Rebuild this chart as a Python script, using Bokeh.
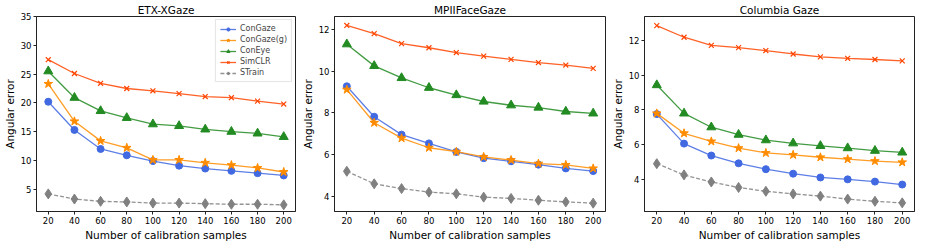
from bokeh.plotting import figure
from bokeh.layouts import row
from bokeh.models import FixedTicker, Range1d
from bokeh.embed import file_html
from bokeh.resources import INLINE

# ---------------- data ----------------
samples = [20, 40, 60, 80, 100, 120, 140, 160, 180, 200]
x_ticks = [20, 40, 60, 80, 100, 120, 140, 160, 180, 200]

series_names = ["ConGaze", "ConGaze(g)", "ConEye", "SimCLR", "STrain"]

etx_congaze = [20.2, 15.3, 12.0, 10.9, 9.9, 9.1, 8.6, 8.2, 7.8, 7.4]
etx_congaze_g = [23.3, 16.8, 13.4, 12.2, 10.1, 10.1, 9.6, 9.2, 8.7, 8.0]
etx_coneye = [25.5, 20.9, 18.6, 17.4, 16.3, 16.0, 15.4, 15.0, 14.7, 14.1]
etx_simclr = [27.5, 25.1, 23.4, 22.5, 22.1, 21.6, 21.1, 20.9, 20.3, 19.8]
etx_strain = [4.2, 3.3, 2.9, 2.8, 2.6, 2.6, 2.5, 2.4, 2.4, 2.3]
etx_yticks = [5, 10, 15, 20, 25, 30, 35]

mpii_congaze = [9.27, 7.81, 6.95, 6.53, 6.12, 5.82, 5.67, 5.51, 5.33, 5.20]
mpii_congaze_g = [9.11, 7.52, 6.78, 6.32, 6.13, 5.88, 5.73, 5.56, 5.50, 5.33]
mpii_coneye = [11.29, 10.25, 9.67, 9.20, 8.85, 8.54, 8.36, 8.25, 8.06, 7.97]
mpii_simclr = [12.19, 11.80, 11.32, 11.12, 10.89, 10.72, 10.56, 10.41, 10.29, 10.13]
mpii_strain = [5.19, 4.59, 4.36, 4.19, 4.11, 3.95, 3.89, 3.80, 3.72, 3.66]
mpii_yticks = [4, 6, 8, 10, 12]

col_congaze = [7.76, 6.05, 5.36, 4.91, 4.57, 4.31, 4.09, 3.98, 3.85, 3.68]
col_congaze_g = [7.80, 6.65, 6.18, 5.79, 5.51, 5.40, 5.26, 5.15, 5.04, 4.97]
col_coneye = [9.44, 7.80, 7.00, 6.57, 6.25, 6.07, 5.92, 5.79, 5.64, 5.54]
col_simclr = [12.88, 12.21, 11.74, 11.61, 11.44, 11.24, 11.07, 10.99, 10.92, 10.84]
col_strain = [4.89, 4.24, 3.83, 3.51, 3.29, 3.14, 3.01, 2.84, 2.71, 2.62]
col_yticks = [4, 6, 8, 10, 12]

# ---------------- styles ----------------
FONT = "DejaVu Sans"
styles = {
    "ConGaze": dict(color="#4169E1", marker="circle", size=7, dash="solid"),
    "ConGaze(g)": dict(color="#FF8C00", marker="star", size=9, dash="solid"),
    "ConEye": dict(color="#228B22", marker="triangle", size=9, dash="solid"),
    "SimCLR": dict(color="#FF4500", marker="x", size=7, dash="solid"),
    "STrain": dict(color="#808080", marker="diamond", size=10, dash="4 2"),
}


def make_fig(title, width, bl, br, yr, yticks, values, legend=False):
    p = figure(width=width, height=243, output_backend="svg", toolbar_location=None,
               x_range=Range1d(11, 209), y_range=Range1d(*yr),
               min_border_left=bl, min_border_right=br,
               min_border_top=11, min_border_bottom=30)
    p.title.text = title
    p.title.align = "center"
    p.title.text_font = FONT
    p.title.text_font_size = "10.5px"
    p.title.text_font_style = "normal"
    p.title.text_color = "black"
    p.title.standoff = 2

    for name, ys in zip(series_names, values):
        st = styles[name]
        kw = dict(legend_label=name) if legend else {}
        p.line(samples, ys, line_color=st["color"], line_width=1.3,
               line_dash=st["dash"], line_alpha=0.85, **kw)
        if st["marker"] == "x":
            p.scatter(samples, ys, marker="x", size=st["size"], line_color=st["color"],
                      line_width=1.2, **kw)
        else:
            p.scatter(samples, ys, marker=st["marker"], size=st["size"],
                      fill_color=st["color"], line_color=st["color"], **kw)

    p.xaxis.ticker = FixedTicker(ticks=x_ticks)
    p.yaxis.ticker = FixedTicker(ticks=yticks)
    p.xaxis.axis_label = "Number of calibration samples"
    p.yaxis.axis_label = "Angular error"
    for ax in (p.xaxis[0], p.yaxis[0]):
        ax.axis_label_text_font = FONT
        ax.axis_label_text_font_size = "10.5px"
        ax.axis_label_text_font_style = "normal"
        ax.axis_label_text_color = "black"
        ax.axis_label_standoff = 2
        ax.major_label_text_font = FONT
        ax.major_label_text_font_size = "8.5px"
        ax.major_label_text_color = "black"
        ax.major_label_standoff = 2
        ax.major_tick_out = 3
        ax.major_tick_in = 0
        ax.minor_tick_out = 0
        ax.minor_tick_in = 0
        ax.axis_line_color = "#222222"
        ax.major_tick_line_color = "#222222"
    p.grid.visible = False
    p.outline_line_color = "#222222"
    p.outline_line_alpha = 1.0
    p.outline_line_width = 1

    if legend:
        lg = p.legend[0]
        lg.location = "top_right"
        lg.label_text_font = FONT
        lg.label_text_font_size = "8px"
        lg.label_height = 8
        lg.glyph_height = 8
        lg.glyph_width = 16
        lg.spacing = 2
        lg.padding = 4
        lg.margin = 3
        lg.label_standoff = 4
        lg.border_line_color = "#cccccc"
        lg.background_fill_alpha = 0.9
    return p


p1 = make_fig("ETX-XGaze", 298, 30, 3, (1.14, 35.0), etx_yticks,
              [etx_congaze, etx_congaze_g, etx_coneye, etx_simclr, etx_strain], legend=True)
p2 = make_fig("MPIIFaceGaze", 310, 34, 3, (3.26, 12.62), mpii_yticks,
              [mpii_congaze, mpii_congaze_g, mpii_coneye, mpii_simclr, mpii_strain])
p3 = make_fig("Columbia Gaze", 310, 33, 4, (2.12, 13.41), col_yticks,
              [col_congaze, col_congaze_g, col_coneye, col_simclr, col_strain])

layout = row(p1, p2, p3)
open("out.html", "w").write(file_html(layout, INLINE))
